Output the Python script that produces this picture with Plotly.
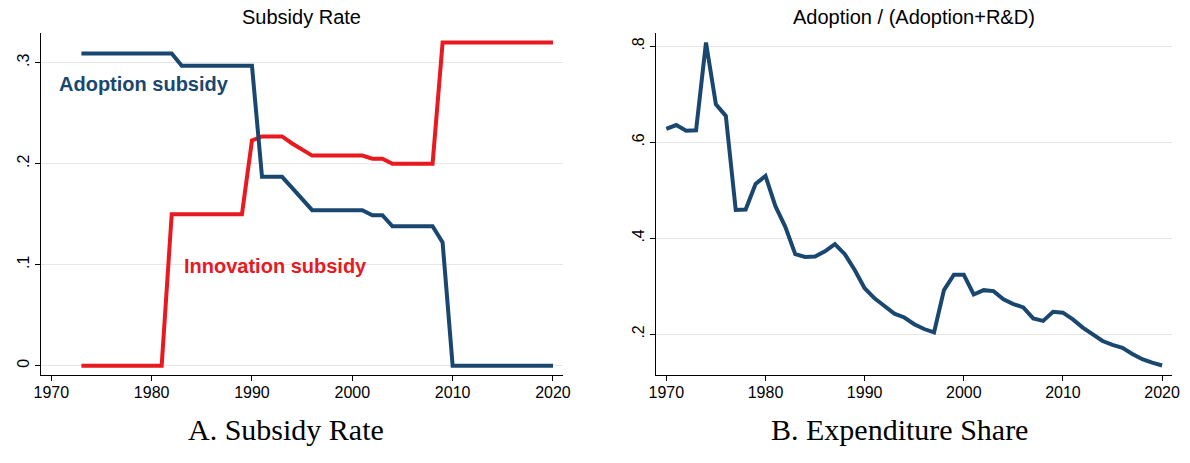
import plotly.graph_objects as go

# ---------- data ----------
years_a = list(range(1973, 2021))
adoption_subsidy = (
    [0.309] * 10 +                      # 1973-1982
    [0.297] * 8 +                       # 1983-1990
    [0.187, 0.187, 0.187] +             # 1991-1993
    [0.176, 0.165] +                    # 1994-1995
    [0.154] * 6 +                       # 1996-2001
    [0.149, 0.149] +                    # 2002-2003
    [0.138] * 5 +                       # 2004-2008
    [0.122] +                           # 2009
    [0.0] * 11                          # 2010-2020
)
innovation_subsidy = (
    [0.0] * 9 +                         # 1973-1981
    [0.150] * 8 +                       # 1982-1989
    [0.223] +                           # 1990
    [0.227, 0.227, 0.227] +             # 1991-1993
    [0.220, 0.214] +                    # 1994-1995
    [0.208] * 6 +                       # 1996-2001
    [0.205, 0.205] +                    # 2002-2003
    [0.200] * 5 +                       # 2004-2008
    [0.320] * 12                        # 2009-2020
)

years_b = list(range(1970, 2021))
expenditure_share = [
    0.628, 0.636, 0.624, 0.625, 0.808, 0.679, 0.655, 0.459, 0.460, 0.513,
    0.530, 0.467, 0.424, 0.367, 0.361, 0.362, 0.373, 0.388, 0.367, 0.334,
    0.296, 0.275, 0.259, 0.243, 0.235, 0.221, 0.211, 0.204, 0.292, 0.324,
    0.324, 0.283, 0.292, 0.290, 0.273, 0.263, 0.256, 0.233, 0.228, 0.247,
    0.245, 0.231, 0.214, 0.200, 0.186, 0.178, 0.172, 0.159, 0.148, 0.141,
    0.135,
]

x_ticks = [1970, 1980, 1990, 2000, 2010, 2020]
y_ticks_a = [0, 0.1, 0.2, 0.3]
y_ticklabels_a = ["0", ".1", ".2", ".3"]
y_ticks_b = [0.2, 0.4, 0.6, 0.8]
y_ticklabels_b = [".2", ".4", ".6", ".8"]

BLUE = "#1a476f"
RED = "#e8191f"
W, H = 1190, 463

fig = go.Figure()
fig.add_trace(go.Scatter(x=years_a, y=innovation_subsidy, mode="lines",
                         line=dict(color=RED, width=4), xaxis="x", yaxis="y",
                         hoverinfo="skip"))
fig.add_trace(go.Scatter(x=years_a, y=adoption_subsidy, mode="lines",
                         line=dict(color=BLUE, width=4), xaxis="x", yaxis="y",
                         hoverinfo="skip"))
fig.add_trace(go.Scatter(x=years_b, y=expenditure_share, mode="lines",
                         line=dict(color=BLUE, width=4), xaxis="x2", yaxis="y2",
                         hoverinfo="skip"))

tickfont = dict(family="Liberation Sans, Arial", size=16, color="black")

def xax(domain, anchor):
    return dict(domain=domain, anchor=anchor, range=[1968.97, 2020.95],
                tickvals=x_ticks, ticks="outside", ticklen=5, tickcolor="black",
                showline=True, linecolor="black", linewidth=1, showgrid=False,
                zeroline=False, tickfont=tickfont, fixedrange=True,
                ticklabelstandoff=-2)

def yax(domain, anchor, rng, vals, text):
    return dict(domain=domain, anchor=anchor, range=rng, tickvals=vals,
                ticktext=text, ticks="outside", ticklen=5, tickcolor="black",
                showline=True, linecolor="black", linewidth=1, showgrid=True,
                gridcolor="#e6e6e6", gridwidth=1, zeroline=False,
                tickangle=-90, tickfont=tickfont, fixedrange=True)

ydom = [1 - 375 / H, 1 - 33 / H]
fig.update_layout(
    width=W, height=H, margin=dict(l=0, r=0, t=0, b=0),
    paper_bgcolor="white", plot_bgcolor="white", showlegend=False,
    xaxis=xax([34.4 / W, 562.6 / W], "y"),
    yaxis=yax(ydom, "x", [-0.0092, 0.3294], y_ticks_a, y_ticklabels_a),
    xaxis2=xax([657.4 / W, 1179.4 / W], "y2"),
    yaxis2=yax(ydom, "x2", [0.1152, 0.8277], y_ticks_b, y_ticklabels_b),
)

title_font = dict(family="Liberation Sans, Arial", size=20, color="black")
cap_font = dict(family="Liberation Serif, Times New Roman", size=30, color="black")
annots = [
    dict(text="Subsidy Rate", x=298.5 / W, y=1 - 16.7 / H, font=title_font),
    dict(text="Adoption / (Adoption+R&D)", x=918.4 / W, y=1 - 16.7 / H, font=title_font),
    dict(text="A. Subsidy Rate", x=282.5 / W, y=1 - 429 / H, font=cap_font),
    dict(text="B. Expenditure Share", x=904 / W, y=1 - 429 / H, font=cap_font),
]
for a in annots:
    fig.add_annotation(xref="paper", yref="paper", showarrow=False,
                       xanchor="center", yanchor="middle", **a)

label_font = dict(family="Liberation Sans, Arial", size=20)
fig.add_annotation(text="<b>Adoption subsidy</b>", x=1970.6, y=0.279, xref="x", yref="y",
                   showarrow=False, xanchor="left", yanchor="middle",
                   font=dict(color=BLUE, **label_font))
fig.add_annotation(text="<b>Innovation subsidy</b>", x=1983.0, y=0.0987, xref="x", yref="y",
                   showarrow=False, xanchor="left", yanchor="middle",
                   font=dict(color=RED, **label_font))

fig.write_html(
    "out.html",
    config={"displayModeBar": False, "staticPlot": True},
    post_script="document.body.style.margin='0';document.body.style.overflow='hidden';",
)
